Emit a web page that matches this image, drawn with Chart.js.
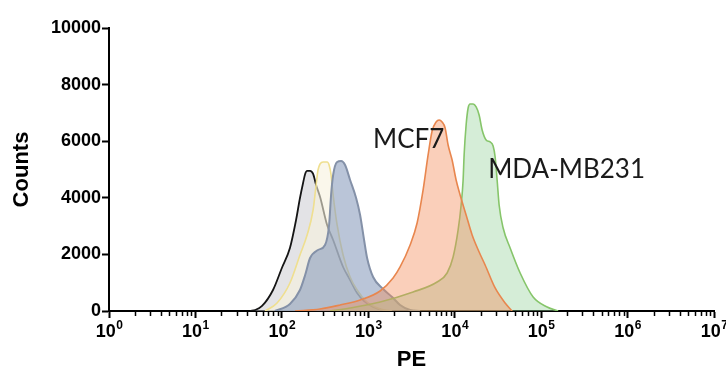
<!DOCTYPE html>
<html><head><meta charset="utf-8">
<script src="https://cdn.jsdelivr.net/npm/chart.js@4"></script>
<style>html,body{margin:0;padding:0;background:#fff}#wrap{width:726px;height:374px}</style>
</head><body><div id="wrap"><canvas id="c" width="726" height="374"></canvas></div>
<script>
// ---- data (PE intensity vs. counts) ----
const blackPE = [43,49,59,79,100,124,146,162,176,186,196,212,230,249,277,334,392,511,616,742,894,1137,1564];
const blackCounts = [0,35,177,742,1520,2226,3216,3993,4524,4842,4950,4950,4842,4453,4029,3039,2509,1555,1096,636,353,141,0];

const yellowPE = [64,88,124,162,196,230,249,262,277,300,334,352,371,392,436,511,616,742,968,1370,1886];
const yellowCounts = [0,283,990,1979,2686,3569,4453,4983,5195,5266,5266,5160,4806,4099,3039,1979,1202,742,318,71,0];

const bluePE = [83,124,162,186,212,262,316,352,371,392,436,485,539,616,723,804,894,969,1137,1484,1886,2334,3047,3977];
const blueCounts = [0,247,742,1272,1873,2156,2332,3039,4099,4806,5266,5301,5160,4630,3993,3393,2509,1873,1202,777,495,212,35,0];

const mcf7PE = [142,277,472,804,1370,1936,2334,3047,3672,4309,4921,5476,6091,6597,7146,7745,8385,9331,10380,11548,13551,15906,19160,22480,29350,38300,46170];
const mcf7Counts = [0,71,212,389,707,1166,1555,2332,3110,4276,5513,6361,6679,6750,6679,6467,5866,5336,4630,4099,3393,2686,2085,1626,813,283,0];

const mdaPE = [361,616,1370,3301,6257,8166,9583,10950,11865,12510,12849,13551,14295,15080,16332,17690,19160,20760,23090,25690,27820,29350,30950,32650,36330,43780,57150,80800,117300,157300];
const mdaCounts = [0,106,318,671,1025,1343,1908,2863,3746,4630,5513,6573,7174,7315,7315,7209,6927,6397,6043,5972,5831,5442,4630,3746,2933,2226,1343,495,141,0];

const yTickValues = [0,2000,4000,6000,8000,10000];
const xDecades = [1,10,100,1000,10000,100000,1000000,10000000];
const xDecadeBase = '10';
const xDecadeExponents = ['0','1','2','3','4','5','6','7'];
const labelTexts = ['MCF7','MDA-MB231'];
const labelPE = [1137,24360];
const labelCounts = [5760,4700];

function pts(xs, ys){ return xs.map((x,i)=>({x:x, y:ys[i]})); }

const labelPlugin = {
  id:'labels',
  afterDraw(chart){
    const ctx = chart.ctx, xs = chart.scales.x, ys = chart.scales.y;
    ctx.save();
    // minor tick marks on the log axis
    ctx.strokeStyle = '#000'; ctx.lineWidth = 1.5;
    for (const t of xs.ticks){
      if (xDecades.includes(t.value)) continue;
      const px = Math.round(xs.getPixelForValue(t.value)) + 0.5;
      ctx.beginPath(); ctx.moveTo(px, xs.top); ctx.lineTo(px, xs.top + 5); ctx.stroke();
    }
    // decade labels 10^n
    ctx.fillStyle = '#000';
    ctx.textAlign = 'left'; ctx.textBaseline = 'alphabetic';
    const baseY = xs.top + 26;
    xDecades.forEach((v,i)=>{
      const px = xs.getPixelForValue(v);
      ctx.font = 'bold 18px "Liberation Sans"';
      const w1 = ctx.measureText(xDecadeBase).width;
      ctx.font = 'bold 12px "Liberation Sans"';
      const w2 = ctx.measureText(xDecadeExponents[i]).width;
      const x0 = px - (w1 + w2) / 2;
      ctx.font = 'bold 18px "Liberation Sans"';
      ctx.fillText(xDecadeBase, x0, baseY);
      ctx.font = 'bold 12px "Liberation Sans"';
      ctx.fillText(xDecadeExponents[i], x0 + w1 + 0.5, baseY - 8);
    });
    // annotations
    ctx.fillStyle = '#1a1a1a';
    ctx.font = '26px Lato';
    labelTexts.forEach((t,i)=>{
      ctx.fillText(t, xs.getPixelForValue(labelPE[i]), ys.getPixelForValue(labelCounts[i]));
    });
    ctx.restore();
  }
};

const tickFont = {family:'Liberation Sans', weight:'bold', size:18};
const titleFont = {family:'Liberation Sans', weight:'bold', size:22};

new Chart(document.getElementById('c'), {
  type:'line',
  data:{ datasets:[
    {label:'control', data:pts(blackPE,blackCounts), borderColor:'#151515', backgroundColor:'rgba(200,200,206,0.5)', borderWidth:1.8, fill:'origin', order:5},
    {label:'isotype', data:pts(yellowPE,yellowCounts), borderColor:'#efdf8f', backgroundColor:'rgba(246,242,222,0.6)', borderWidth:1.6, fill:'origin', order:4},
    {label:'unstained', data:pts(bluePE,blueCounts), borderColor:'#8491a8', backgroundColor:'rgba(140,158,190,0.6)', borderWidth:2, fill:'origin', order:3},
    {label:'MDA-MB231', data:pts(mdaPE,mdaCounts), borderColor:'#86c56a', backgroundColor:'rgba(150,210,155,0.4)', borderWidth:1.6, fill:'origin', order:2},
    {label:'MCF7', data:pts(mcf7PE,mcf7Counts), borderColor:'#e8864e', backgroundColor:'rgba(243,140,90,0.42)', borderWidth:1.6, fill:'origin', order:1}
  ]},
  options:{
    responsive:false, animation:false, devicePixelRatio:1,
    layout:{padding:{top:28,right:12,bottom:0,left:0}},
    elements:{point:{radius:0}, line:{cubicInterpolationMode:'monotone'}},
    plugins:{legend:{display:false}, tooltip:{enabled:false}},
    scales:{
      x:{
        type:'logarithmic', min:1, max:10000000, position:'bottom',
        afterBuildTicks:(s)=>{
          const t=[];
          for (let n=0;n<7;n++) for (let k=1;k<10;k++) t.push({value:k*Math.pow(10,n), major:k===1});
          t.push({value:10000000, major:true});
          s.ticks=t;
        },
        ticks:{autoSkip:false, maxRotation:0, minRotation:0, color:'#000', font:tickFont, padding:0,
          callback:()=>''},
        grid:{display:true, drawOnChartArea:false, drawTicks:true, tickLength:7, tickWidth:2,
          tickColor:(c)=> (c.tick && xDecades.includes(c.tick.value)) ? '#000' : 'rgba(0,0,0,0)'},
        border:{display:true, color:'#000', width:2},
        title:{display:true, text:'PE', color:'#000', font:titleFont, padding:{top:0,bottom:1}},
        afterFit:(s)=>{ s.height=63; s.paddingLeft=0; s.paddingRight=0; }
      },
      y:{
        type:'linear', min:0, max:10000,
        afterBuildTicks:(s)=>{ s.ticks = yTickValues.map(v=>({value:v})); },
        ticks:{color:'#000', font:tickFont, padding:1, callback:(v)=>String(v)},
        grid:{display:true, drawOnChartArea:false, drawTicks:true, tickLength:7, tickWidth:2, tickColor:'#000'},
        border:{display:true, color:'#000', width:2},
        title:{display:true, text:'Counts', color:'#000', font:titleFont, padding:{top:9,bottom:0}},
        afterFit:(s)=>{ s.width=109; s.paddingTop=0; s.paddingBottom=0; }
      }
    }
  },
  plugins:[labelPlugin]
});
</script></body></html>
